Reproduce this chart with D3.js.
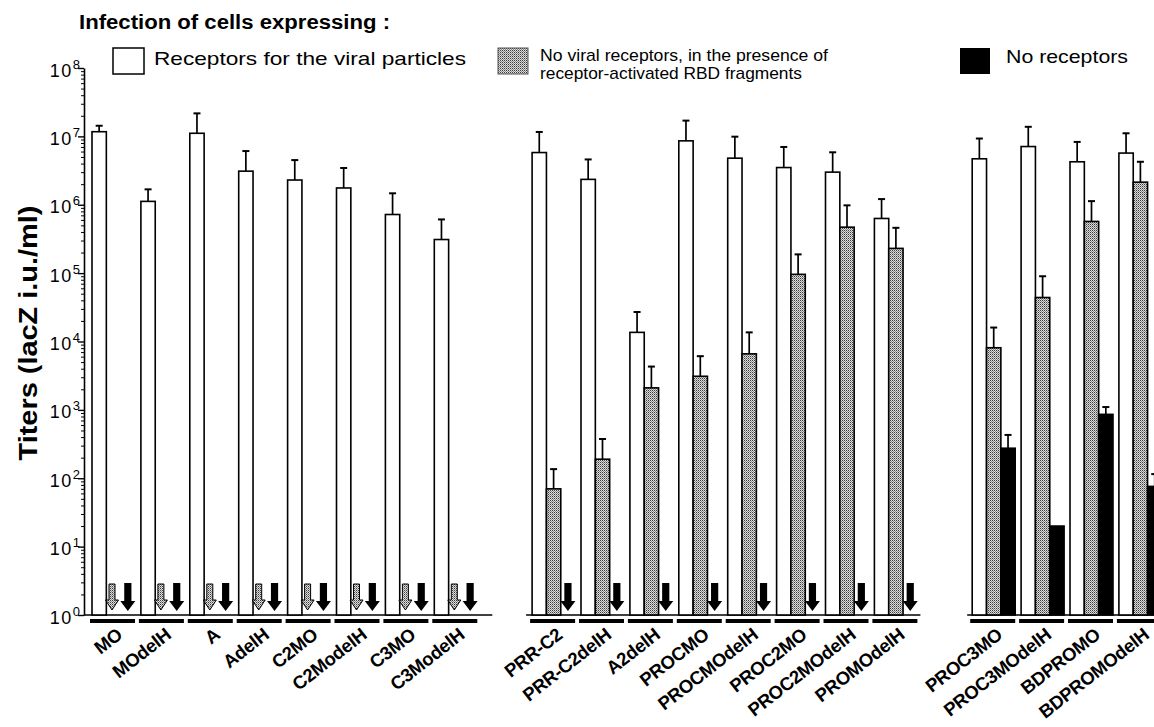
<!DOCTYPE html>
<html>
<head>
<meta charset="utf-8">
<script src="https://cdn.jsdelivr.net/npm/d3@7"></script>
<style>
  body { margin: 0; background: #fff; }
  svg { display: block; }
  text { font-family: "Liberation Sans", Arial, Helvetica, sans-serif; fill: #000; }
</style>
</head>
<body>
<svg id="chart" width="1154" height="727"></svg>
<script>
// Envelope constructs, in three panels
const groupA = ["MO", "MOdelH", "A", "AdelH", "C2MO", "C2ModelH", "C3MO", "C3ModelH"];
const groupB = ["PRR-C2", "PRR-C2delH", "A2delH", "PROCMO", "PROCMOdelH", "PROC2MO", "PROC2MOdelH", "PROMOdelH"];
const groupC = ["PROC3MO", "PROC3MOdelH", "BDPROMO", "BDPROMOdelH"];
const categories = [...groupA, ...groupB, ...groupC];

// Titers (lacZ i.u./ml); null = below detection, drawn as a down arrow
const withReceptor    = [1.17e7, 1.12e6, 1.11e7, 3.1e6, 2.3e6, 1.76e6, 7.2e5, 3.1e5,
                         5.8e6, 2.35e6, 1.36e4, 8.6e6, 4.8e6, 3.5e6, 3.0e6, 6.3e5,
                         4.7e6, 7.1e6, 4.25e6, 5.7e6];
const withReceptorErr = [1.43e7, 1.68e6, 2.17e7, 6.1e6, 4.5e6, 3.45e6, 1.47e6, 6.1e5,
                         1.16e7, 4.6e6, 2.7e4, 1.7e7, 9.9e6, 7.0e6, 5.85e6, 1.21e6,
                         9.3e6, 1.38e7, 8.3e6, 1.11e7];
const withRBD         = [null, null, null, null, null, null, null, null,
                         70, 190, 2.1e3, 3.1e3, 6.6e3, 9.6e4, 4.7e5, 2.3e5,
                         8.1e3, 4.4e4, 5.7e5, 2.14e6];
const withRBDErr      = [null, null, null, null, null, null, null, null,
                         136, 375, 4.3e3, 6.1e3, 1.36e4, 1.88e5, 9.8e5, 4.6e5,
                         1.6e4, 9.0e4, 1.13e6, 4.25e6];
const noReceptor      = [null, null, null, null, null, null, null, null,
                         null, null, null, null, null, null, null, null,
                         275, 20, 860, 76];
const noReceptorErr   = [null, null, null, null, null, null, null, null,
                         null, null, null, null, null, null, null, null,
                         430, null, 1.1e3, 115];

const yTicks = [1, 10, 100, 1e3, 1e4, 1e5, 1e6, 1e7, 1e8];
const seriesNames = ["Receptors for the viral particles",
                     "No viral receptors, in the presence of receptor-activated RBD fragments",
                     "No receptors"];

const svg = d3.select("#chart");
const W = 1154, H = 727;

// stippled grey fill (pixel dither)
const defs = svg.append("defs");
const pat = defs.append("pattern").attr("id", "stipple")
  .attr("width", 2).attr("height", 2).attr("patternUnits", "userSpaceOnUse");
pat.append("rect").attr("width", 2).attr("height", 2).attr("fill", "#dcdcdc");
pat.append("rect").attr("x", 0).attr("y", 0).attr("width", 1).attr("height", 1).attr("fill", "#3c3c3c");
pat.append("rect").attr("x", 1).attr("y", 1).attr("width", 1).attr("height", 1).attr("fill", "#8a8a8a");

// layout: one empty slot between panels
const slots = [...groupA, "_s1", ...groupB, "_s2", ...groupC];
const step = 48.9, band = 45;
const x = d3.scaleBand().domain(slots)
  .range([90, 90 + step * slots.length - (step - band)])
  .paddingInner((step - band) / step).paddingOuter(0);
const xs = d3.scaleBand().domain([0, 1, 2]).range([2, x.bandwidth()]);
const y = d3.scaleLog().domain([1, 1e8]).range([615, 68]);
const base = y(1);

const fills = ["#fff", "url(#stipple)", "#000"];
const values = [withReceptor, withRBD, noReceptor];
const errs = [withReceptorErr, withRBDErr, noReceptorErr];

// y axis: minor ticks
const minor = [];
for (let e = 0; e < 8; e++) for (let m = 2; m <= 9; m++) minor.push(m * Math.pow(10, e));
const axisX = 84;
svg.append("g").attr("transform", `translate(${axisX},0)`)
  .call(d3.axisLeft(y).tickValues(minor).tickSize(3).tickFormat(() => ""))
  .call(g => g.select(".domain").remove())
  .call(g => g.selectAll("line").attr("stroke", "#000").attr("stroke-width", 1));

const yAxis = svg.append("g").attr("transform", `translate(${axisX},0)`)
  .call(d3.axisLeft(y).tickValues(yTicks).tickSize(6).tickSizeOuter(0).tickFormat(() => ""));
yAxis.select(".domain").attr("stroke", "#000").attr("stroke-width", 1.6);
yAxis.selectAll(".tick line").attr("stroke", "#000").attr("stroke-width", 1.4);
yAxis.selectAll(".tick text").remove();
yAxis.selectAll(".tick").append("text")
  .attr("x", -4).attr("y", 8).attr("text-anchor", "end")
  .attr("font-size", 18).attr("letter-spacing", 1.5)
  .text("10")
  .append("tspan").attr("dy", -8).attr("font-size", 13).attr("letter-spacing", 0)
  .text(d => Math.round(Math.log10(d)));

// baselines per panel
const panelSpan = [
  [axisX, x(groupA[groupA.length - 1]) + band + 15],
  [x(groupB[0]) - 4, x(groupB[groupB.length - 1]) + band + 3],
  [x(groupC[0]) - 3, W]
];
svg.append("g").selectAll("line").data(panelSpan).join("line")
  .attr("x1", d => d[0]).attr("x2", d => d[1])
  .attr("y1", base).attr("y2", base)
  .attr("stroke", "#000").attr("stroke-width", 1.6);

// underline under each construct
svg.append("g").selectAll("rect").data(categories).join("rect")
  .attr("x", d => x(d)).attr("y", 619).attr("width", band).attr("height", 4)
  .attr("fill", "#000");

// bars
const barG = svg.append("g");
const errG = svg.append("g");
const arrowG = svg.append("g");

function arrowPath(cx, sw, hw, top, neck, tip) {
  return `M${cx - sw},${top}H${cx + sw}V${neck}H${cx + hw}L${cx},${tip}L${cx - hw},${neck}H${cx - sw}Z`;
}

categories.forEach((c, i) => {
  values.forEach((vals, s) => {
    const v = vals[i];
    const bx = x(c) + xs(s);
    const bw = xs.bandwidth();
    const cx = bx + bw / 2;
    if (v == null) {
      if (i >= groupA.length && s === 1) return;
      if (s === 1) {
        arrowG.append("path")
          .attr("d", arrowPath(cx - 1.5, 3, 6.5, base - 31, base - 15, base - 5))
          .attr("fill", "url(#stipple)").attr("stroke", "#000").attr("stroke-width", 1);
      } else {
        arrowG.append("path")
          .attr("d", arrowPath(cx, 3.6, 7.5, base - 32, base - 14, base - 4))
          .attr("fill", "#000");
      }
      return;
    }
    barG.append("rect")
      .attr("x", bx).attr("y", y(v)).attr("width", bw).attr("height", base - y(v))
      .attr("fill", fills[s]).attr("stroke", "#000").attr("stroke-width", 1.6);
    const e = errs[s][i];
    if (e != null) {
      errG.append("line").attr("x1", cx).attr("x2", cx).attr("y1", y(v)).attr("y2", y(e))
        .attr("stroke", "#000").attr("stroke-width", 1.7);
      errG.append("line").attr("x1", cx - 3.5).attr("x2", cx + 3.5).attr("y1", y(e)).attr("y2", y(e))
        .attr("stroke", "#000").attr("stroke-width", 2);
    }
  });
});

// category labels
svg.append("g").selectAll("text").data(categories).join("text")
  .attr("transform", d => `translate(${x(d) + band / 2 + 11},${637}) rotate(-38)`)
  .attr("text-anchor", "end")
  .attr("font-size", 18.5).attr("font-weight", "bold").attr("letter-spacing", -0.3)
  .text(d => d);

// y title
svg.append("text")
  .attr("transform", "translate(37,333) rotate(-90)")
  .attr("text-anchor", "middle")
  .attr("font-size", 25).attr("font-weight", "bold")
  .attr("textLength", 255).attr("lengthAdjust", "spacingAndGlyphs")
  .text("Titers (lacZ i.u./ml)");

// heading and legend
svg.append("text").attr("x", 79).attr("y", 29)
  .attr("font-size", 20).attr("font-weight", "bold")
  .attr("textLength", 311).attr("lengthAdjust", "spacingAndGlyphs")
  .text("Infection of cells expressing :");

const leg = svg.append("g");
leg.append("rect").attr("x", 113).attr("y", 48).attr("width", 31).attr("height", 26)
  .attr("fill", "#fff").attr("stroke", "#000").attr("stroke-width", 1.5);
leg.append("text").attr("x", 154).attr("y", 65).attr("font-size", 18.5)
  .attr("textLength", 312).attr("lengthAdjust", "spacingAndGlyphs")
  .text(seriesNames[0]);

leg.append("rect").attr("x", 498).attr("y", 48).attr("width", 30).attr("height", 26)
  .attr("fill", "url(#stipple)").attr("stroke", "#555").attr("stroke-width", 1);
leg.append("text").attr("x", 540).attr("y", 61).attr("font-size", 17)
  .attr("textLength", 288).attr("lengthAdjust", "spacingAndGlyphs")
  .text("No viral receptors, in the presence of");
leg.append("text").attr("x", 540).attr("y", 79).attr("font-size", 17)
  .attr("textLength", 262).attr("lengthAdjust", "spacingAndGlyphs")
  .text("receptor-activated RBD fragments");

leg.append("rect").attr("x", 960).attr("y", 48).attr("width", 30).attr("height", 26)
  .attr("fill", "#000");
leg.append("text").attr("x", 1006).attr("y", 63).attr("font-size", 18.5)
  .attr("textLength", 122).attr("lengthAdjust", "spacingAndGlyphs")
  .text(seriesNames[2]);
</script>
</body>
</html>
